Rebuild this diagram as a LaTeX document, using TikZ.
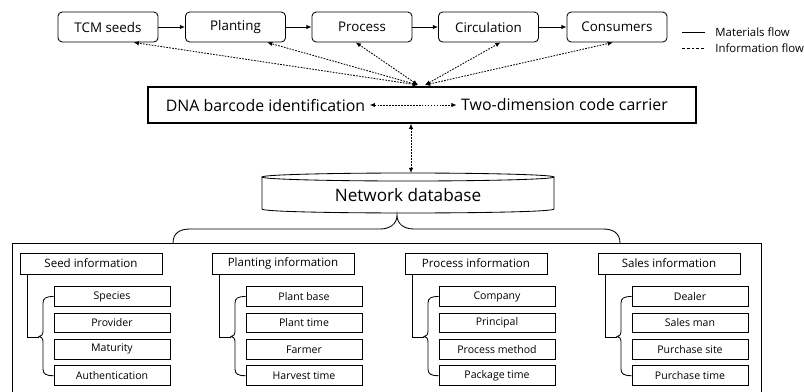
\documentclass[tikz,border=0pt]{standalone}
\usepackage{fontspec}
\setmainfont{Open Sans}
\usetikzlibrary{arrows.meta}

\begin{document}
\begin{tikzpicture}[x=0.025cm, y=-0.025cm, >={Latex[length=1.3mm,width=1.1mm]}, line width=0.6pt,
	every node/.style={font=\fontsize{9.5}{11}\selectfont, inner sep=0pt},
	stagebox/.style={draw, rounded corners=3pt, minimum width=2.5cm, minimum height=0.75cm},
	bigtext/.style={font=\fontsize{11.3}{13}\selectfont, inner sep=3pt},
	headbox/.style={draw, minimum width=3.55cm, minimum height=0.525cm, font=\fontsize{8.2}{10}\selectfont},
	itembox/.style={draw, minimum width=2.9cm, minimum height=0.49cm, font=\fontsize{7.5}{9}\selectfont},
	legtext/.style={anchor=west, font=\fontsize{8.1}{10}\selectfont},
	info/.style={<->, dash pattern=on 1.2pt off 0.9pt}]
	\useasboundingbox (0,0) rectangle (804,391);
	% supply chain
	\foreach \n/\x/\t in {tcm/108/TCM seeds, plant/235.5/Planting, proc/362/Process, circ/488.5/Circulation, cons/617/Consumers}
		\node[stagebox] (\n) at (\x,27) {\t};
	\foreach \a/\b in {tcm/plant, plant/proc, proc/circ, circ/cons}
		\draw[->] (\a) -- (\b);
	% legend
	\node[legtext] (mat) at (715,32) {Materials flow};
	\node[legtext] (inf) at (715,48) {Information flow};
	\draw (682,32) -- (705,32);
	\draw[dash pattern=on 2pt off 1.4pt] (682,48) -- (705,48);
	% identification and carrier
	\node[draw, line width=0.9pt, minimum width=13.7cm, minimum height=0.9cm] (carrier) at (422,105) {};
	\node[bigtext] (dna) at (265.5,105) {DNA barcode identification};
	\node[bigtext] (qr) at (564.5,105) {Two-dimension code carrier};
	\draw[info] (dna) -- (qr);
	\coordinate (hubl) at (418,85);
	\coordinate (hubr) at (425,85);
	\draw[info] (hubl) -- (tcm.-31);
	\draw[info] (hubl) -- (plant.-26);
	\draw[info] (hubl) -- (proc.-112);
	\draw[info] (hubr) -- (circ.-52);
	\draw[info] (hubr) -- (cons.-105);
	% database
	\coordinate (dbtop) at (411,173);
	\draw[info] (carrier.south -| dbtop) -- (dbtop);
	\draw (408,177) ellipse (146 and 4);
	\draw (262,177) -- (262,209) .. controls (262,214.3) and (554,214.3) .. (554,209) -- (554,177);
	\node[font=\fontsize{12.2}{14}\selectfont] (db) at (408,195) {Network database};
	\draw (173,243) .. controls (173,233) and (180,229) .. (190,229) -- (380,229) .. controls (390,229) and (397,224) .. (397,215)
		.. controls (397,224) and (404,229) .. (414,229) -- (603,229) .. controls (613,229) and (620,233) .. (620,243);
	\draw (12,243) rectangle (761,400);
	% information groups
	\foreach \g/\x/\h/\a/\b/\c/\d in {seed/20/Seed information/Species/Provider/Maturity/Authentication,
		grow/212/Planting information/Plant base/Plant time/Farmer/Harvest time,
		make/405/Process information/Company/Principal/Process method/Package time,
		sale/598/Sales information/Dealer/Sales man/Purchase site/Purchase time} {
		\node[headbox] (\g) at (\x+71,263.5) {\h};
		\foreach \t [count=\i] in {\a,\b,\c,\d}
			\node[itembox] (\g-\i) at (\x+92,{270.1+26.4*\i}) {\t};
		\draw ([xshift=0.2cm]\g.south west) -- ++(0,62.5) -- ++(11,0);
		\draw (\g-1.west) .. controls (\x+26,296.5) and (\x+23,298) .. (\x+23,303) -- (\x+23,331)
			.. controls (\x+23,335) and (\x+21,336.5) .. (\x+19,336.5)
			.. controls (\x+21,336.5) and (\x+23,338) .. (\x+23,342) -- (\x+23,369)
			.. controls (\x+23,374) and (\x+26,375.7) .. (\g-4.west);
	}
\end{tikzpicture}
\end{document}
